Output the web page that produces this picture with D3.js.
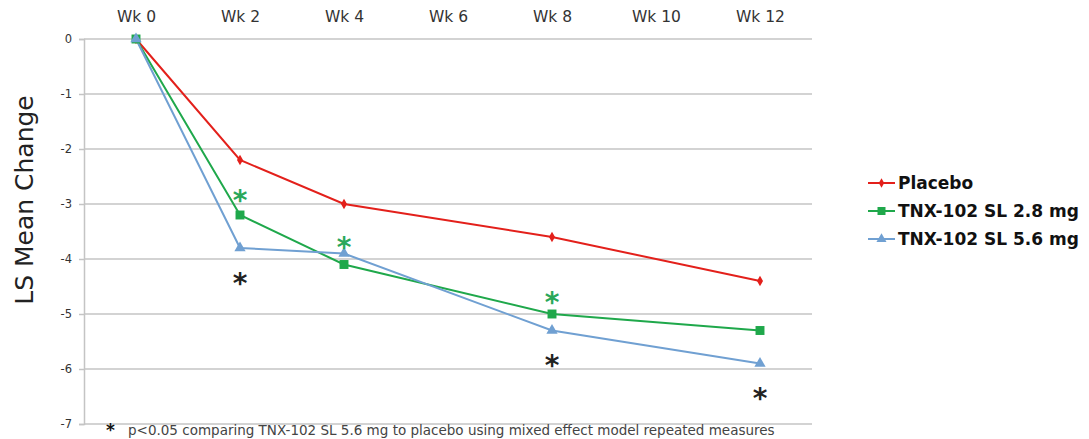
<!DOCTYPE html>
<html>
<head>
<meta charset="utf-8">
<script src="https://cdn.jsdelivr.net/npm/d3@7"></script>
<style>
  html, body { margin: 0; padding: 0; background: #fff; overflow: hidden; }
  svg { display: block; }
</style>
</head>
<body>
<svg id="chart" width="1089" height="439"></svg>
<script>
// ---- data ----
const weeks = ["Wk 0", "Wk 2", "Wk 4", "Wk 6", "Wk 8", "Wk 10", "Wk 12"];
const yTicks = [0, -1, -2, -3, -4, -5, -6, -7];
const seriesNames = ["Placebo", "TNX-102 SL 2.8 mg", "TNX-102 SL 5.6 mg"];
const placebo = [["Wk 0", 0], ["Wk 2", -2.2], ["Wk 4", -3.0], ["Wk 8", -3.6], ["Wk 12", -4.4]];
const tnx28   = [["Wk 0", 0], ["Wk 2", -3.2], ["Wk 4", -4.1], ["Wk 8", -5.0], ["Wk 12", -5.3]];
const tnx56   = [["Wk 0", 0], ["Wk 2", -3.8], ["Wk 4", -3.9], ["Wk 8", -5.3], ["Wk 12", -5.9]];
const sigGreen = [["Wk 2", -2.85], ["Wk 4", -3.7], ["Wk 8", -4.7]];
const sigBlack = [["Wk 2", -4.35], ["Wk 8", -5.85], ["Wk 12", -6.45]];
const yLabel = "LS Mean Change";
const footnote = "p<0.05 comparing TNX-102 SL 5.6 mg to placebo using mixed effect model repeated measures";

// ---- layout ----
const svg = d3.select("#chart");
const pLeft = 84, pRight = 812, pTop = 39, pBottom = 424;
const x = d3.scalePoint().domain(weeks).range([pLeft, pRight]).padding(0.5);
const y = d3.scaleLinear().domain([-7, 0]).range([pBottom, pTop]);

const colors = ["#e3201b", "#1fa84b", "#70a0d2"];
const gridColor = "#c4c4c4";
const textFont = "DejaVu Sans, Verdana, sans-serif";

// gridlines
svg.append("g").selectAll("line").data(yTicks).join("line")
  .attr("x1", pLeft).attr("x2", pRight)
  .attr("y1", d => y(d)).attr("y2", d => y(d))
  .attr("stroke", gridColor).attr("stroke-width", 1.5);

// y axis
const yAxis = d3.axisLeft(y).tickValues(yTicks).tickSize(5).tickPadding(7).tickFormat(d => String(d));
const ya = svg.append("g").attr("transform", `translate(${pLeft},0)`).call(yAxis);
ya.select(".domain").attr("stroke", gridColor).attr("stroke-width", 1.5);
ya.selectAll(".tick line").attr("stroke", gridColor).attr("stroke-width", 1.5);
ya.selectAll(".tick text").attr("font-family", textFont).attr("font-size", 11.5).attr("fill", "#333");

// top x axis labels
const xAxis = d3.axisTop(x).tickSize(0).tickPadding(17);
const xa = svg.append("g").attr("transform", `translate(0,${pTop})`).call(xAxis);
xa.select(".domain").remove();
xa.selectAll(".tick text").attr("font-family", textFont).attr("font-size", 15.5).attr("fill", "#333");

// y label
svg.append("text")
  .attr("transform", `translate(33,200) rotate(-90)`)
  .attr("text-anchor", "middle")
  .attr("font-family", textFont).attr("font-size", 25).attr("fill", "#222")
  .text(yLabel);

// lines
const allSeries = [placebo, tnx28, tnx56];
const line = d3.line().x(d => x(d[0])).y(d => y(d[1]));
const symbols = [d3.symbolDiamond, d3.symbolSquare, d3.symbolTriangle];
const symSizes = [32, 80, 55];

allSeries.forEach((s, i) => {
  svg.append("path").datum(s)
    .attr("d", line).attr("fill", "none")
    .attr("stroke", colors[i]).attr("stroke-width", 2);
});
allSeries.forEach((s, i) => {
  svg.append("g").selectAll("path").data(s).join("path")
    .attr("transform", d => `translate(${x(d[0])},${y(d[1])})`)
    .attr("d", d3.symbol().type(symbols[i]).size(symSizes[i]))
    .attr("fill", colors[i]);
});

// significance asterisks
function stars(data, color) {
  svg.append("g").selectAll("text").data(data).join("text")
    .attr("x", d => x(d[0])).attr("y", d => y(d[1]))
    .attr("dy", "0.52em")
    .attr("text-anchor", "middle")
    .attr("font-family", textFont).attr("font-size", 28).attr("font-weight", "bold")
    .attr("fill", color).text("*");
}
stars(sigGreen, "#2aa85a");
stars(sigBlack, "#222");

// legend
const legend = svg.append("g");
seriesNames.forEach((name, i) => {
  const ly = 183 + i * 28;
  legend.append("line").attr("x1", 868).attr("x2", 895).attr("y1", ly).attr("y2", ly)
    .attr("stroke", colors[i]).attr("stroke-width", 2);
  legend.append("path").attr("transform", `translate(881.5,${ly})`)
    .attr("d", d3.symbol().type(symbols[i]).size(symSizes[i] * 0.8))
    .attr("fill", colors[i]);
  legend.append("text").attr("x", 898).attr("y", ly).attr("dy", "0.36em")
    .attr("font-family", textFont).attr("font-size", 17).attr("font-weight", "bold")
    .attr("fill", "#111").text(name);
});

// footnote
svg.append("text").attr("x", 106).attr("y", 436)
  .attr("font-family", textFont).attr("font-size", 17).attr("font-weight", "bold")
  .attr("fill", "#111").text("*");
svg.append("text").attr("x", 128).attr("y", 435)
  .attr("font-family", textFont).attr("font-size", 13.5)
  .attr("fill", "#444").text(footnote);
</script>
</body>
</html>
